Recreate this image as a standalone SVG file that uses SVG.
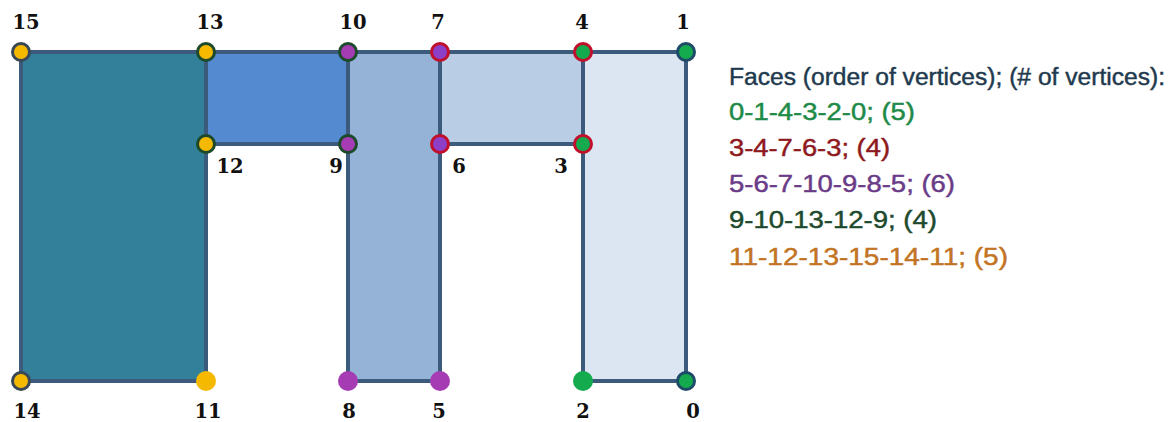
<svg xmlns="http://www.w3.org/2000/svg" width="1173" height="422" viewBox="0 0 1173 422">
<style>
.edge{stroke:#3B5A7C;stroke-width:4;fill:none;stroke-linecap:round}
.vl{font-family:"DejaVu Serif","Liberation Serif",serif;font-weight:bold;font-size:19.5px;fill:#111;text-anchor:middle}
.lg text{font-family:"Liberation Sans",Arial,sans-serif;font-size:23px;stroke-width:0.45}
.gold{fill:#F5B900}
.purp{fill:#A63CB4}
.grn{fill:#14AA4E}
.mag{fill:#8E3FC8}
.sGray{stroke:#3A4756;stroke-width:3}
.sDG{stroke:#1E4A2C;stroke-width:3}
.sRed{stroke:#C0102C;stroke-width:3}
.sTeal{stroke:#1E4C68;stroke-width:3}
</style>
<rect width="1173" height="422" fill="#ffffff"/>
<g id="faces">
<rect id="face-11-12-13-15-14" x="21" y="52" width="185" height="329" fill="#33809A"/>
<rect id="face-9-10-13-12" x="206" y="52" width="142" height="92" fill="#538AD0"/>
<rect id="face-5-6-7-10-9-8" x="348" y="52" width="92" height="329" fill="#95B3D7"/>
<rect id="face-3-4-7-6" x="440" y="52" width="143" height="92" fill="#B9CDE5"/>
<rect id="face-0-1-4-3-2" x="583" y="52" width="103" height="329" fill="#DCE6F2"/>
</g>
<g id="connectors">
<line class="edge" x1="21" y1="52" x2="686" y2="52"/>
<line class="edge" x1="21" y1="52" x2="21" y2="381"/>
<line class="edge" x1="21" y1="381" x2="206" y2="381"/>
<line class="edge" x1="206" y1="52" x2="206" y2="381"/>
<line class="edge" x1="206" y1="144" x2="348" y2="144"/>
<line class="edge" x1="348" y1="52" x2="348" y2="381"/>
<line class="edge" x1="348" y1="381" x2="440" y2="381"/>
<line class="edge" x1="440" y1="52" x2="440" y2="381"/>
<line class="edge" x1="440" y1="144" x2="583" y2="144"/>
<line class="edge" x1="583" y1="52" x2="583" y2="381"/>
<line class="edge" x1="583" y1="381" x2="686" y2="381"/>
<line class="edge" x1="686" y1="52" x2="686" y2="381"/>
</g>
<g id="v0"><circle class="grn sTeal" cx="686" cy="381" r="8.5"/><text class="vl" x="693" y="418">0</text></g>
<g id="v1"><circle class="grn sTeal" cx="686" cy="52" r="8.5"/><text class="vl" x="683" y="29">1</text></g>
<g id="v2"><circle class="grn" cx="583" cy="381" r="10"/><text class="vl" x="583" y="418">2</text></g>
<g id="v3"><circle class="grn sRed" cx="583" cy="144" r="8.5"/><text class="vl" x="561" y="173">3</text></g>
<g id="v4"><circle class="grn sRed" cx="583" cy="52" r="8.5"/><text class="vl" x="582" y="29">4</text></g>
<g id="v5"><circle class="purp" cx="440" cy="381" r="10"/><text class="vl" x="439" y="418">5</text></g>
<g id="v6"><circle class="mag sRed" cx="440" cy="144" r="8.5"/><text class="vl" x="459" y="173">6</text></g>
<g id="v7"><circle class="mag sRed" cx="440" cy="52" r="8.5"/><text class="vl" x="438" y="29">7</text></g>
<g id="v8"><circle class="purp" cx="348" cy="381" r="10"/><text class="vl" x="349" y="418">8</text></g>
<g id="v9"><circle class="purp sDG" cx="348" cy="144" r="8.5"/><text class="vl" x="336" y="173">9</text></g>
<g id="v10"><circle class="purp sDG" cx="348" cy="52" r="8.5"/><text class="vl" x="353" y="29">10</text></g>
<g id="v11"><circle class="gold" cx="206" cy="381" r="10"/><text class="vl" x="208" y="418">11</text></g>
<g id="v12"><circle class="gold sDG" cx="206" cy="144" r="8.5"/><text class="vl" x="230" y="173">12</text></g>
<g id="v13"><circle class="gold sDG" cx="206" cy="52" r="8.5"/><text class="vl" x="210" y="29">13</text></g>
<g id="v14"><circle class="gold sGray" cx="21" cy="381" r="8.5"/><text class="vl" x="27" y="418">14</text></g>
<g id="v15"><circle class="gold sGray" cx="21" cy="52" r="8.5"/><text class="vl" x="26" y="29">15</text></g>
<g id="legend" class="lg">
<text x="729" y="85" fill="#1F3A4E" stroke="#1F3A4E" textLength="436" lengthAdjust="spacingAndGlyphs">Faces (order of vertices); (# of vertices):</text>
<text x="729" y="120" fill="#1E8A48" stroke="#1E8A48" textLength="186" lengthAdjust="spacingAndGlyphs">0-1-4-3-2-0; (5)</text>
<text x="729" y="156" fill="#8E1A1E" stroke="#8E1A1E" textLength="161" lengthAdjust="spacingAndGlyphs">3-4-7-6-3; (4)</text>
<text x="729" y="192" fill="#6A3C88" stroke="#6A3C88" textLength="226" lengthAdjust="spacingAndGlyphs">5-6-7-10-9-8-5; (6)</text>
<text x="729" y="228" fill="#1D4A2E" stroke="#1D4A2E" textLength="208" lengthAdjust="spacingAndGlyphs">9-10-13-12-9; (4)</text>
<text x="729" y="265" fill="#C27424" stroke="#C27424" textLength="279" lengthAdjust="spacingAndGlyphs">11-12-13-15-14-11; (5)</text>
</g>
</svg>
